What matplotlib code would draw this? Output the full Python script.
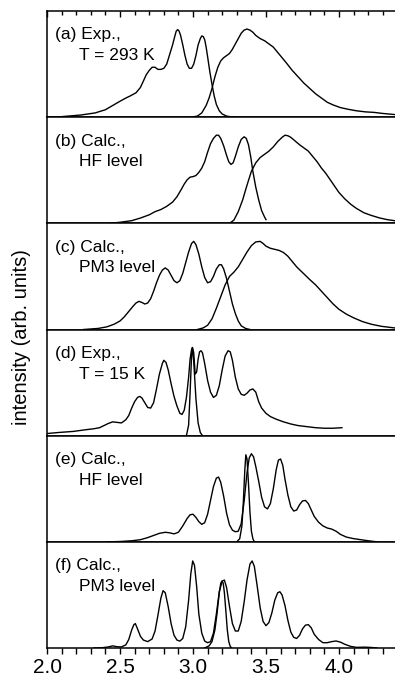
import matplotlib
matplotlib.use("Agg")
import matplotlib.pyplot as plt
from matplotlib.ticker import MultipleLocator

plt.rcParams['font.family'] = ['Liberation Sans', 'DejaVu Sans']

# panel labels (two lines each)
labels = [("(a) Exp.,", "T = 293 K"),
          ("(b) Calc.,", "HF level"),
          ("(c) Calc.,", "PM3 level"),
          ("(d) Exp.,", "T = 15 K"),
          ("(e) Calc.,", "HF level"),
          ("(f) Calc.,", "PM3 level")]

# (a) T = 293 K experiment
a1_x = [2.00, 2.10, 2.23, 2.33, 2.40, 2.45, 2.50, 2.54, 2.57, 2.61, 2.64, 2.66, 2.68, 2.70, 2.72,
        2.74, 2.76, 2.78, 2.80, 2.82, 2.84, 2.86, 2.875, 2.885, 2.895, 2.905, 2.915, 2.93, 2.945,
        2.96, 2.975, 2.99, 3.005, 3.02, 3.035, 3.05, 3.06, 3.07, 3.08, 3.09, 3.10, 3.115, 3.13,
        3.145, 3.16, 3.18, 3.20, 3.23, 3.26, 3.30]
a1_y = [0.0, 0.005, 0.02, 0.04, 0.07, 0.11, 0.15, 0.18, 0.20, 0.23, 0.28, 0.34, 0.40, 0.44, 0.47,
        0.47, 0.45, 0.45, 0.46, 0.50, 0.59, 0.68, 0.76, 0.81, 0.825, 0.81, 0.77, 0.68, 0.58,
        0.50, 0.46, 0.46, 0.50, 0.58, 0.68, 0.74, 0.765, 0.76, 0.73, 0.66, 0.57, 0.43, 0.31,
        0.20, 0.12, 0.06, 0.03, 0.01, 0.003, 0.0]
a2_x = [2.99, 3.03, 3.06, 3.09, 3.11, 3.13, 3.15, 3.17, 3.19, 3.21, 3.23, 3.25, 3.27, 3.29, 3.31,
        3.33, 3.35, 3.37, 3.39, 3.41, 3.43, 3.46, 3.49, 3.52, 3.55, 3.58, 3.61, 3.64, 3.68, 3.72,
        3.76, 3.80, 3.84, 3.88, 3.92, 3.96, 4.01, 4.06, 4.12, 4.18, 4.24, 4.30, 4.38]
a2_y = [0.0, 0.01, 0.04, 0.11, 0.18, 0.27, 0.38, 0.47, 0.53, 0.56, 0.58, 0.60, 0.64, 0.69, 0.74,
        0.79, 0.82, 0.83, 0.82, 0.80, 0.77, 0.74, 0.72, 0.69, 0.66, 0.61, 0.56, 0.51, 0.44, 0.38,
        0.32, 0.27, 0.22, 0.18, 0.14, 0.115, 0.09, 0.075, 0.06, 0.05, 0.045, 0.035, 0.025]

# (b) HF level
b1_x = [2.43, 2.50, 2.58, 2.64, 2.70, 2.74, 2.78, 2.82, 2.86, 2.89, 2.92, 2.94, 2.96, 2.98, 3.00,
        3.02, 3.04, 3.06, 3.08, 3.10, 3.12, 3.14, 3.16, 3.175, 3.19, 3.21, 3.23, 3.245, 3.26,
        3.275, 3.29, 3.31, 3.33, 3.35, 3.365, 3.38, 3.395, 3.41, 3.43, 3.45, 3.47, 3.49, 3.50]
b1_y = [0.0, 0.01, 0.025, 0.05, 0.08, 0.11, 0.13, 0.16, 0.20, 0.25, 0.32, 0.37, 0.41, 0.435, 0.44,
        0.45, 0.48, 0.52, 0.58, 0.67, 0.75, 0.80, 0.83, 0.83, 0.80, 0.73, 0.64, 0.58, 0.555,
        0.57, 0.63, 0.72, 0.79, 0.815, 0.80, 0.74, 0.63, 0.49, 0.34, 0.22, 0.12, 0.06, 0.035]
b2_x = [3.25, 3.28, 3.31, 3.34, 3.37, 3.40, 3.43, 3.46, 3.49, 3.52, 3.55, 3.58, 3.61, 3.63, 3.65,
        3.67, 3.70, 3.73, 3.76, 3.79, 3.82, 3.85, 3.88, 3.91, 3.94, 3.97, 4.00, 4.04, 4.08, 4.12,
        4.17, 4.22, 4.28, 4.33, 4.38]
b2_y = [0.0, 0.03, 0.11, 0.22, 0.36, 0.49, 0.57, 0.62, 0.65, 0.68, 0.72, 0.77, 0.81, 0.83, 0.825,
        0.81, 0.775, 0.74, 0.71, 0.68, 0.63, 0.58, 0.52, 0.47, 0.41, 0.35, 0.29, 0.23, 0.18, 0.14,
        0.10, 0.075, 0.05, 0.035, 0.025]

# (c) PM3 level
c1_x = [2.25, 2.35, 2.41, 2.46, 2.50, 2.53, 2.56, 2.59, 2.61, 2.63, 2.65, 2.67, 2.69, 2.71, 2.73,
        2.75, 2.77, 2.79, 2.81, 2.83, 2.85, 2.87, 2.89, 2.91, 2.93, 2.95, 2.97, 2.99, 3.005, 3.02,
        3.04, 3.06, 3.08, 3.10, 3.12, 3.14, 3.16, 3.18, 3.195, 3.21, 3.23, 3.25, 3.27, 3.29, 3.31,
        3.33, 3.36, 3.39]
c1_y = [0.0, 0.01, 0.025, 0.05, 0.08, 0.12, 0.17, 0.22, 0.25, 0.265, 0.255, 0.24, 0.25, 0.29, 0.36,
        0.44, 0.51, 0.56, 0.58, 0.56, 0.51, 0.46, 0.44, 0.46, 0.53, 0.63, 0.73, 0.81, 0.83, 0.80,
        0.71, 0.59, 0.49, 0.44, 0.45, 0.50, 0.57, 0.61, 0.61, 0.57, 0.48, 0.36, 0.24, 0.15, 0.08,
        0.035, 0.01, 0.0]
c2_x = [3.03, 3.07, 3.10, 3.13, 3.16, 3.19, 3.22, 3.25, 3.28, 3.31, 3.34, 3.37, 3.40, 3.43, 3.46,
        3.48, 3.50, 3.53, 3.56, 3.59, 3.62, 3.65, 3.68, 3.71, 3.74, 3.77, 3.80, 3.84, 3.88, 3.92,
        3.96, 4.00, 4.05, 4.10, 4.16, 4.22, 4.29, 4.38]
c2_y = [0.0, 0.015, 0.04, 0.10, 0.20, 0.31, 0.42, 0.50, 0.54, 0.59, 0.66, 0.73, 0.79, 0.825, 0.83,
        0.81, 0.785, 0.765, 0.755, 0.745, 0.725, 0.69, 0.64, 0.59, 0.55, 0.51, 0.47, 0.42, 0.36, 0.30,
        0.24, 0.19, 0.145, 0.11, 0.075, 0.05, 0.03, 0.015]

# (d) T = 15 K experiment
d1_x = [2.00, 2.08, 2.18, 2.26, 2.32, 2.36, 2.39, 2.42, 2.45, 2.48, 2.51, 2.54, 2.56, 2.58, 2.60,
        2.62, 2.635, 2.65, 2.67, 2.69, 2.71, 2.73, 2.75, 2.77, 2.79, 2.80, 2.815, 2.83, 2.85, 2.87,
        2.89, 2.91, 2.925, 2.94, 2.955, 2.97, 2.98, 2.99, 2.997, 3.005, 3.015, 3.025, 3.035, 3.045,
        3.055, 3.065, 3.08, 3.10, 3.12, 3.14, 3.16, 3.18, 3.20, 3.22, 3.24, 3.255, 3.27, 3.29,
        3.31, 3.33, 3.35, 3.37, 3.39, 3.41, 3.43, 3.45, 3.47, 3.50, 3.53, 3.57, 3.62, 3.67, 3.72,
        3.78, 3.84, 3.90, 3.96, 4.02]
d1_y = [0.02, 0.03, 0.04, 0.055, 0.065, 0.075, 0.095, 0.115, 0.13, 0.125, 0.12, 0.15, 0.19, 0.26, 0.32,
        0.36, 0.37, 0.355, 0.31, 0.265, 0.26, 0.31, 0.44, 0.58, 0.68, 0.71, 0.69, 0.62, 0.49, 0.37,
        0.28, 0.21, 0.20, 0.24, 0.36, 0.55, 0.72, 0.81, 0.83, 0.78, 0.58, 0.60, 0.72, 0.79,
        0.80, 0.78, 0.68, 0.52, 0.41, 0.36, 0.38, 0.47, 0.62, 0.75, 0.80, 0.79, 0.71, 0.55,
        0.44, 0.39, 0.38, 0.40, 0.43, 0.44, 0.41, 0.32, 0.26, 0.21, 0.18, 0.155, 0.13, 0.11, 0.095,
        0.085, 0.075, 0.07, 0.07, 0.075]
d2_x = [2.955, 2.97, 2.98, 2.99, 2.995, 3.005, 3.02, 3.035, 3.05, 3.065]
d2_y = [0.0, 0.10, 0.40, 0.75, 0.83, 0.70, 0.35, 0.12, 0.03, 0.0]

# (e) HF level
e1_x = [2.41, 2.50, 2.58, 2.64, 2.69, 2.73, 2.77, 2.81, 2.84, 2.87, 2.90, 2.93, 2.96, 2.98, 3.00,
        3.02, 3.04, 3.06, 3.08, 3.10, 3.12, 3.14, 3.16, 3.175, 3.19, 3.21, 3.23, 3.25, 3.27, 3.29,
        3.31, 3.33, 3.35, 3.37, 3.385, 3.40, 3.415, 3.43, 3.45, 3.47, 3.49, 3.51, 3.53, 3.55, 3.57,
        3.585, 3.60, 3.615, 3.63, 3.65, 3.67, 3.69, 3.71, 3.73, 3.75, 3.77, 3.79, 3.81, 3.83, 3.86,
        3.89, 3.92, 3.95, 3.98, 4.01, 4.05, 4.10, 4.15, 4.20, 4.26]
e1_y = [0.0, 0.003, 0.01, 0.02, 0.04, 0.06, 0.08, 0.09, 0.085, 0.075, 0.09, 0.15, 0.22, 0.255, 0.26,
        0.23, 0.19, 0.165, 0.18, 0.26, 0.39, 0.52, 0.60, 0.61, 0.56, 0.43, 0.27, 0.16, 0.11, 0.095,
        0.10, 0.17, 0.38, 0.65, 0.79, 0.83, 0.80, 0.71, 0.57, 0.42, 0.33, 0.31, 0.36, 0.50, 0.68,
        0.77, 0.78, 0.72, 0.59, 0.44, 0.33, 0.29, 0.30, 0.35, 0.385, 0.39, 0.36, 0.30, 0.24, 0.185,
        0.15, 0.13, 0.12, 0.10, 0.07, 0.045, 0.03, 0.02, 0.01, 0.0]
e2_x = [3.30, 3.32, 3.335, 3.345, 3.355, 3.362, 3.37, 3.38, 3.39, 3.40, 3.41, 3.42]
e2_y = [0.0, 0.03, 0.15, 0.38, 0.68, 0.82, 0.78, 0.55, 0.28, 0.10, 0.03, 0.0]

# (f) PM3 level
f1_x = [2.32, 2.38, 2.42, 2.45, 2.48, 2.51, 2.54, 2.56, 2.58, 2.595, 2.605, 2.62, 2.64, 2.66, 2.69,
        2.72, 2.74, 2.76, 2.78, 2.795, 2.81, 2.83, 2.85, 2.87, 2.89, 2.91, 2.93, 2.95, 2.97, 2.985,
        2.998, 3.01, 3.025, 3.04, 3.06, 3.08, 3.10, 3.12, 3.14, 3.16, 3.18, 3.20, 3.215, 3.23,
        3.25, 3.27, 3.29, 3.31, 3.33, 3.35, 3.37, 3.39, 3.405, 3.42, 3.44, 3.46, 3.48, 3.50, 3.52,
        3.54, 3.56, 3.58, 3.595, 3.61, 3.63, 3.65, 3.67, 3.69, 3.71, 3.73, 3.75, 3.77, 3.79, 3.81,
        3.83, 3.86, 3.89, 3.92, 3.95, 3.98, 4.01, 4.04, 4.08, 4.12, 4.18, 4.22, 4.26]
f1_y = [0.0, 0.003, 0.01, 0.02, 0.012, 0.01, 0.03, 0.08, 0.17, 0.22, 0.23, 0.18, 0.11, 0.075, 0.06,
        0.085, 0.16, 0.31, 0.47, 0.54, 0.52, 0.39, 0.23, 0.12, 0.075, 0.065, 0.09, 0.20, 0.45, 0.70,
        0.82, 0.78, 0.58, 0.32, 0.14, 0.065, 0.05, 0.06, 0.14, 0.32, 0.53, 0.63, 0.64, 0.57,
        0.39, 0.23, 0.16, 0.16, 0.25, 0.43, 0.64, 0.79, 0.82, 0.77, 0.58, 0.38, 0.25, 0.21, 0.24,
        0.33, 0.45, 0.52, 0.53, 0.50, 0.40, 0.26, 0.15, 0.10, 0.09, 0.12, 0.18, 0.215, 0.22, 0.19,
        0.13, 0.08, 0.05, 0.05, 0.06, 0.066, 0.055, 0.035, 0.015, 0.006, 0.008, 0.005, 0.0]
f2_x = [3.08, 3.11, 3.13, 3.15, 3.165, 3.18, 3.19, 3.198, 3.207, 3.215, 3.225, 3.235, 3.245, 3.255, 3.265]
f2_y = [0.0, 0.02, 0.06, 0.17, 0.33, 0.52, 0.61, 0.63, 0.61, 0.52, 0.35, 0.17, 0.06, 0.015, 0.0]

curves = [((a1_x, a1_y), (a2_x, a2_y)),
          ((b1_x, b1_y), (b2_x, b2_y)),
          ((c1_x, c1_y), (c2_x, c2_y)),
          ((d1_x, d1_y), (d2_x, d2_y)),
          ((e1_x, e1_y), (e2_x, e2_y)),
          ((f1_x, f1_y), (f2_x, f2_y))]

W, H = 395, 679
fig = plt.figure(figsize=(W / 100, H / 100), dpi=100)
left, right = 47 / W, 1.0
top, bottom = 1 - 11 / H, 1 - 648 / H
ph = (top - bottom) / 6

axes = []
for i in range(6):
    ax = fig.add_axes([left, top - (i + 1) * ph, right - left, ph])
    axes.append(ax)
    for (x, y) in curves[i]:
        ax.plot(x, y, color='black', lw=1.0, solid_joinstyle='round')
    ax.set_xlim(2.0, 2.0 + (W - 47) / 146)
    ax.set_ylim(0, 1)
    ax.set_yticks([])
    ax.spines['right'].set_visible(False)
    for s in ['left', 'top', 'bottom']:
        ax.spines[s].set_linewidth(1.1)
    ax.xaxis.set_major_locator(MultipleLocator(0.5))
    ax.xaxis.set_minor_locator(MultipleLocator(0.1))
    ax.tick_params(axis='x', which='both', bottom=False, top=False,
                   labelbottom=False, labeltop=False)
    l1, l2 = labels[i]
    ax.text(0.023, 0.774, l1, transform=ax.transAxes, fontsize=12.5, va='center', ha='left')
    ax.text(0.092, 0.58, l2, transform=ax.transAxes, fontsize=12.5, va='center', ha='left')

axes[0].tick_params(axis='x', which='both', top=True, direction='in', width=1.0)
axes[0].tick_params(axis='x', which='major', length=4.5)
axes[0].tick_params(axis='x', which='minor', length=3.0)
axes[-1].tick_params(axis='x', which='both', bottom=True, labelbottom=True,
                     direction='out', width=1.0, labelsize=15, pad=3)
axes[-1].tick_params(axis='x', which='major', length=4.0)
axes[-1].tick_params(axis='x', which='minor', length=4.0)

fig.text(22 / W, 1 - 337 / H, "intensity (arb. units)", rotation=90,
         fontsize=14.5, ha='center', va='center')

fig.savefig("out.png", dpi=100)
